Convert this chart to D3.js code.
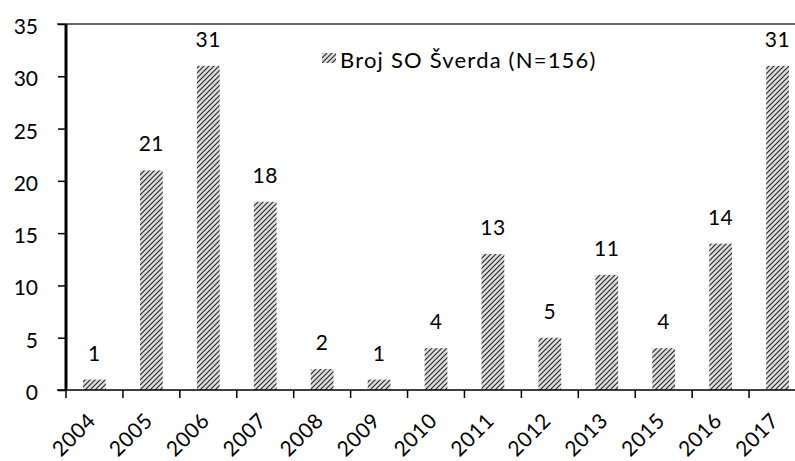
<!DOCTYPE html>
<meta charset="utf-8">
<body style="margin:0;background:#fff">
<script src="https://d3js.org/d3.v7.min.js"></script>
<div id="chart"></div>
<script>
// data
var years = ["2004","2005","2006","2007","2008","2009","2010","2011","2012","2013","2015","2016","2017"];
var counts = [1, 21, 31, 18, 2, 1, 4, 13, 5, 11, 4, 14, 31];
var yTicks = [0, 5, 10, 15, 20, 25, 30, 35];
var legendLabel = "Broj SO Šverda (N=156)";

var width = 795, height = 461;
var font = "Lato, 'Open Sans', sans-serif";

var svg = d3.select("#chart")
    .append("svg")
    .attr("width", width)
    .attr("height", height)
    .style("display", "block")
    .style("font-family", font);

// hatch pattern (light grey with dark upward diagonals)
var pat = svg.append("defs").append("pattern")
    .attr("id", "hatch")
    .attr("patternUnits", "userSpaceOnUse")
    .attr("width", 5)
    .attr("height", 5);
pat.append("rect").attr("width", 5).attr("height", 5).attr("fill", "#dedede");
pat.append("path")
    .attr("d", "M-1,1 l2,-2 M0,5 l5,-5 M4,6 l2,-2")
    .attr("stroke", "#2a2a2a")
    .attr("stroke-width", 1.2);

var x = d3.scaleBand()
    .domain(years)
    .range([66, 806])
    .padding(0);

var y = d3.scaleLinear()
    .domain([0, 35])
    .range([390, 24]);

// top border
svg.append("line")
    .attr("x1", 57).attr("x2", width)
    .attr("y1", y(35)).attr("y2", y(35))
    .attr("stroke", "#333").attr("stroke-width", 1.5);

// y axis
var yAxis = svg.append("g")
    .attr("transform", "translate(66,0)")
    .call(d3.axisLeft(y).tickValues(yTicks).tickSize(8).tickPadding(20));
yAxis.select(".domain").remove();
yAxis.selectAll(".tick line").attr("stroke", "#000").attr("stroke-width", 1.5);
yAxis.selectAll(".tick text")
    .attr("dy", "0.45em")
    .style("font-size", "21px")
    .style("font-family", font)
    .attr("fill", "#000");

// bars
var barW = x.bandwidth() * 0.4;
svg.selectAll("rect.bar")
    .data(years)
    .join("rect")
    .attr("class", "bar")
    .attr("x", (d) => x(d) + (x.bandwidth() - barW) / 2)
    .attr("y", (d, i) => y(counts[i]))
    .attr("width", barW)
    .attr("height", (d, i) => y(0) - y(counts[i]))
    .attr("fill", "url(#hatch)");

// value labels
svg.selectAll("text.val")
    .data(years)
    .join("text")
    .attr("class", "val")
    .attr("x", (d) => x(d) + x.bandwidth() / 2)
    .attr("y", (d, i) => y(counts[i]) - 19)
    .attr("text-anchor", "middle")
    .style("font-size", "21px")
    .style("letter-spacing", "0.5px")
    .text((d, i) => counts[i]);

// x axis line + ticks at band edges
svg.append("line")
    .attr("x1", 57).attr("x2", width)
    .attr("y1", y(0)).attr("y2", y(0))
    .attr("stroke", "#000").attr("stroke-width", 1.5);
svg.selectAll("line.xt")
    .data(years)
    .join("line")
    .attr("class", "xt")
    .attr("x1", (d) => x(d)).attr("x2", (d) => x(d))
    .attr("y1", y(0)).attr("y2", y(0) + 8)
    .attr("stroke", "#000").attr("stroke-width", 1.5);

// y axis line (thick)
svg.append("line")
    .attr("x1", 66).attr("x2", 66)
    .attr("y1", y(35)).attr("y2", y(0))
    .attr("stroke", "#000").attr("stroke-width", 3);

// x labels rotated
svg.selectAll("text.xl")
    .data(years)
    .join("text")
    .attr("class", "xl")
    .attr("transform", (d) => "translate(" + (x(d) + x.bandwidth() / 2 + 2.5) + "," + (y(0) + 32) + ") rotate(-45)")
    .attr("text-anchor", "end")
    .style("font-size", "21px")
    .style("letter-spacing", "0.5px")
    .text((d) => d);

// legend
svg.append("rect")
    .attr("x", 322).attr("y", 53)
    .attr("width", 14).attr("height", 10)
    .attr("fill", "url(#hatch)");
svg.append("text")
    .attr("x", 340).attr("y", 68)
    .style("font-size", "22px")
    .style("letter-spacing", "1.2px")
    .text(legendLabel);
</script>
</body>
